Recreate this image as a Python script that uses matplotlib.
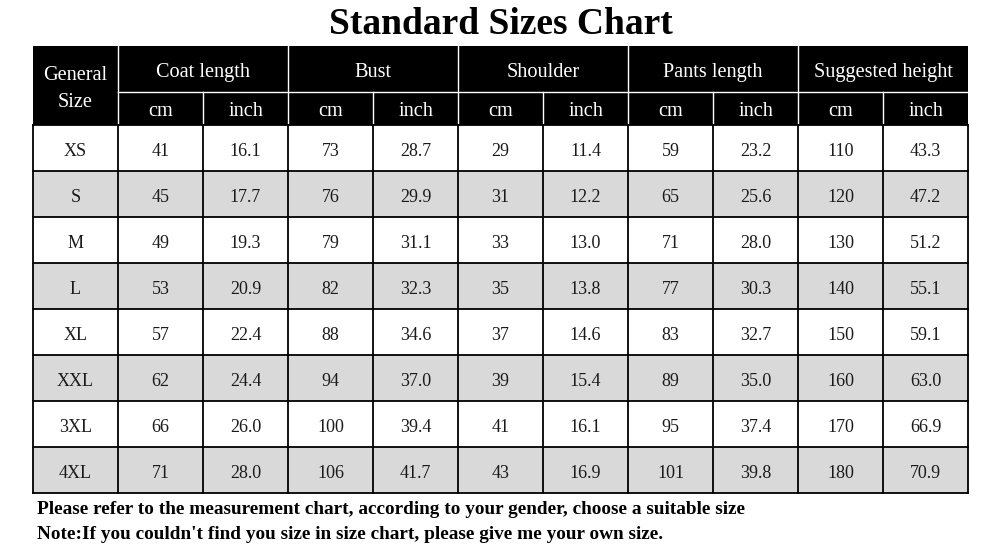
import matplotlib
matplotlib.use("Agg")
import matplotlib.pyplot as plt
from matplotlib.patches import Rectangle

title = "Standard Sizes Chart"
groups = ["Coat length", "Bust", "Shoulder", "Pants length", "Suggested height"]
units = ["cm", "inch"]
sizes = ["XS", "S", "M", "L", "XL", "XXL", "3XL", "4XL"]
coat_cm = ["41", "45", "49", "53", "57", "62", "66", "71"]
coat_in = ["16.1", "17.7", "19.3", "20.9", "22.4", "24.4", "26.0", "28.0"]
bust_cm = ["73", "76", "79", "82", "88", "94", "100", "106"]
bust_in = ["28.7", "29.9", "31.1", "32.3", "34.6", "37.0", "39.4", "41.7"]
shoulder_cm = ["29", "31", "33", "35", "37", "39", "41", "43"]
shoulder_in = ["11.4", "12.2", "13.0", "13.8", "14.6", "15.4", "16.1", "16.9"]
pants_cm = ["59", "65", "71", "77", "83", "89", "95", "101"]
pants_in = ["23.2", "25.6", "28.0", "30.3", "32.7", "35.0", "37.4", "39.8"]
height_cm = ["110", "120", "130", "140", "150", "160", "170", "180"]
height_in = ["43.3", "47.2", "51.2", "55.1", "59.1", "63.0", "66.9", "70.9"]
notes = ["Please refer to the measurement chart, according to your gender, choose a suitable size",
         "Note:If you couldn't find you size in size chart, please give me your own size."]

columns = [coat_cm, coat_in, bust_cm, bust_in, shoulder_cm, shoulder_in,
           pants_cm, pants_in, height_cm, height_in]

SERIF = ["Liberation Serif", "DejaVu Serif"]

fig = plt.figure(figsize=(10, 5.5), dpi=100)
ax = fig.add_axes([0, 0, 1, 1])
ax.set_xlim(0, 1000)
ax.set_ylim(550, 0)
ax.axis("off")

# layout (pixel coordinates)
x0, first_w, col_w = 33, 85, 85
ncol = len(columns)
x_end = x0 + first_w + ncol * col_w
y_head, y_sub, y_body = 46, 92, 125
row_h = 46.0
nrow = len(sizes)
y_end = y_body + nrow * row_h

# title
ax.text(501, 34, title, ha="center", va="baseline", fontsize=27,
        fontweight="bold", family=SERIF, color="black")

# header background
ax.add_patch(Rectangle((x0, y_head), x_end - x0, y_body - y_head, facecolor="black",
                       edgecolor="none", zorder=1))
# body backgrounds
for i in range(nrow):
    fc = "#d9d9d9" if i % 2 == 1 else "white"
    ax.add_patch(Rectangle((x0, y_body + i * row_h), x_end - x0, row_h,
                           facecolor=fc, edgecolor="none", zorder=1))

# header texts
hfs = 14.6
ax.text(x0 + first_w / 2, 80, "General", ha="center", va="baseline",
        fontsize=hfs, family=SERIF, color="white", zorder=3)
ax.text(x0 + first_w / 2, 107, "Size", ha="center", va="baseline",
        fontsize=hfs, family=SERIF, color="white", zorder=3)
for g, name in enumerate(groups):
    gx = x0 + first_w + g * 2 * col_w
    ax.text(gx + col_w, 77, name, ha="center", va="baseline",
            fontsize=hfs, family=SERIF, color="white", zorder=3)
    for u, un in enumerate(units):
        ax.text(gx + u * col_w + col_w / 2, 116.5, un, ha="center",
                va="baseline", fontsize=hfs, family=SERIF, color="white", zorder=3)

# header white lines
lw_h = 1.0
ax.plot([x0 + first_w, x_end], [y_sub, y_sub], color="white", lw=lw_h, zorder=2)
ax.plot([x0 + first_w, x0 + first_w], [y_head, y_body], color="white", lw=lw_h, zorder=2)
for c in range(1, ncol):
    xc = x0 + first_w + c * col_w
    top = y_head if c % 2 == 0 else y_sub
    ax.plot([xc, xc], [top, y_body], color="white", lw=lw_h, zorder=2)

# body text
for i in range(nrow):
    yb = y_body + i * row_h + 31
    ax.text(x0 + first_w / 2, yb, sizes[i], ha="center", va="baseline", fontsize=13,
            family=SERIF, color="#1a1a1a", zorder=3)
    for c, col in enumerate(columns):
        ax.text(x0 + first_w + c * col_w + col_w / 2, yb, col[i], ha="center", va="baseline",
                fontsize=13, family=SERIF, color="#1a1a1a", zorder=3)

# body grid lines
lw_b = 1.3
for i in range(nrow + 1):
    yy = y_body + i * row_h
    ax.plot([x0, x_end], [yy, yy], color="black", lw=lw_b, zorder=2)
xs = [x0, x0 + first_w] + [x0 + first_w + c * col_w for c in range(1, ncol + 1)]
for xx in xs:
    ax.plot([xx, xx], [y_body, y_end], color="black", lw=lw_b, zorder=2)

# notes
ax.text(37, 514, notes[0], ha="left", va="baseline", fontsize=13.9, fontweight="bold",
        family=SERIF, color="black")
ax.text(37, 539, notes[1], ha="left", va="baseline", fontsize=13.9, fontweight="bold",
        family=SERIF, color="black")

fig.savefig("out.png", dpi=100, facecolor="white")
